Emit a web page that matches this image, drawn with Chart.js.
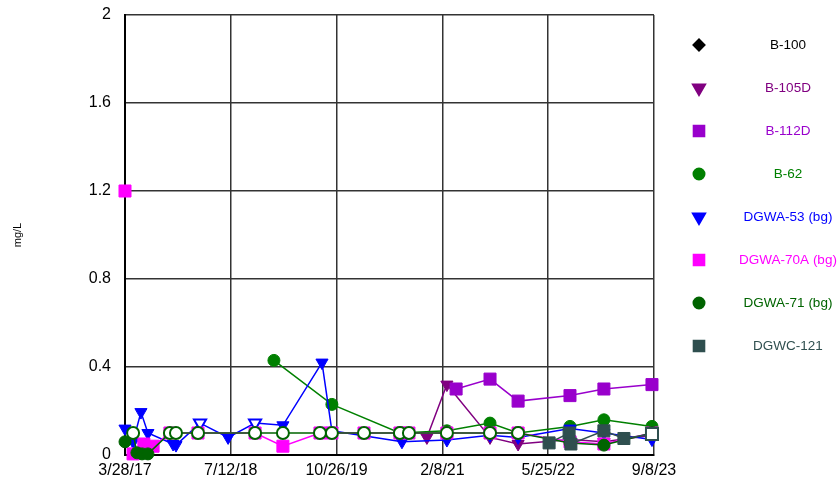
<!DOCTYPE html>
<html>
<head>
<meta charset="utf-8">
<script src="https://cdn.jsdelivr.net/npm/chart.js@4/dist/chart.umd.min.js"></script>
<style>
  html, body { margin: 0; padding: 0; background: #fff; }
  #wrap { width: 840px; height: 488px; }
</style>
</head>
<body>
<div id="wrap"><canvas id="chart" width="840" height="488"></canvas></div>
<script>
// x axis ticks (dates)
const xTickDates = ['2017-03-28', '2018-07-12', '2019-10-26', '2021-02-08', '2022-05-25', '2023-09-08'];
const xTickLabels = ['3/28/17', '7/12/18', '10/26/19', '2/8/21', '5/25/22', '9/8/23'];
const yTicks = [0, 0.4, 0.8, 1.2, 1.6, 2];

// series: dates, values, nd = non-detect (drawn hollow)
const b100Dates = [];
const b100Vals = [];
const b100Nd = [];

const b105dDates = ['2020-12-01', '2021-02-28', '2021-09-08', '2022-01-11', '2022-08-30', '2023-01-28', '2023-08-30'];
const b105dVals = [0.08, 0.32, 0.08, 0.05, 0.07, 0.06, 0.09];
const b105dNd = [0, 0, 0, 0, 0, 0, 0];

const b112dDates = ['2021-04-10', '2021-09-08', '2022-01-11', '2022-08-30', '2023-01-28', '2023-08-30'];
const b112dVals = [0.30, 0.345, 0.245, 0.27, 0.30, 0.32];
const b112dNd = [0, 0, 0, 0, 0, 0];

const b62Dates = ['2019-01-20', '2019-10-05', '2020-08-03', '2021-02-28', '2021-09-08', '2022-01-11', '2022-08-30', '2023-01-28', '2023-08-30'];
const b62Vals = [0.43, 0.23, 0.1, 0.11, 0.145, 0.1, 0.13, 0.16, 0.13];
const b62Nd = [0, 0, 1, 0, 0, 1, 0, 0, 0];

const dgwa53Dates = ['2017-03-28', '2017-05-03', '2017-06-07', '2017-07-08', '2017-10-28', '2017-11-10', '2018-02-25', '2018-06-30', '2018-10-28', '2019-03-01', '2019-08-22', '2019-10-05', '2020-08-12', '2021-02-28', '2021-09-08', '2022-01-11', '2022-08-30', '2023-01-28', '2023-08-30'];
const dgwa53Vals = [0.12, 0.06, 0.195, 0.1, 0.05, 0.045, 0.145, 0.08, 0.145, 0.135, 0.42, 0.11, 0.06, 0.068, 0.09, 0.08, 0.12, 0.1, 0.07];
const dgwa53Nd = [0, 0, 0, 0, 0, 0, 1, 0, 1, 0, 0, 0, 0, 0, 0, 0, 0, 0, 0];

const dgwa70aDates = ['2017-03-28', '2017-04-15', '2017-05-03', '2017-06-20', '2017-07-31', '2017-10-14', '2018-02-16', '2018-10-28', '2019-03-01', '2019-08-13', '2019-10-05', '2020-02-25', '2020-08-03', '2020-09-12', '2021-02-28', '2021-09-08', '2022-01-11', '2022-08-30', '2023-01-28', '2023-08-30'];
const dgwa70aVals = [1.2, null, 0.005, 0.05, 0.04, 0.1, 0.1, 0.1, 0.04, 0.1, 0.1, 0.1, 0.1, 0.1, 0.1, 0.1, 0.1, 0.06, 0.05, 0.1];
const dgwa70aNd = [0, 0, 0, 0, 0, 0, 0, 0, 0, 0, 0, 0, 0, 0, 0, 0, 0, 0, 0, 0];

const dgwa71Dates = ['2017-03-28', '2017-05-03', '2017-05-20', '2017-06-12', '2017-07-08', '2017-10-14', '2017-11-10', '2018-02-16', '2018-10-28', '2019-03-01', '2019-08-13', '2019-10-05', '2020-02-25', '2020-08-03', '2020-09-12', '2021-02-28', '2021-09-08', '2022-01-11', '2022-08-30', '2023-01-28', '2023-08-30'];
const dgwa71Vals = [0.06, 0.1, 0.01, 0.005, 0.005, 0.1, 0.1, 0.1, 0.1, 0.1, 0.1, 0.1, 0.1, 0.1, 0.1, 0.1, 0.1, 0.1, 0.055, 0.045, 0.1];
const dgwa71Nd = [0, 1, 0, 0, 0, 1, 1, 1, 1, 1, 1, 1, 1, 1, 1, 1, 1, 1, 0, 0, 1];

const dgwc121Dates = ['2022-05-29', '2022-08-26', '2022-09-03', '2023-01-28', '2023-04-27', '2023-08-30'];
const dgwc121Vals = [0.055, 0.1, 0.05, 0.11, 0.075, 0.095];
const dgwc121Nd = [0, 0, 0, 0, 0, 1];

function day(s) {
    const p = s.split('-');
    return Date.UTC(+p[0], +p[1] - 1, +p[2]) / 864e5;
}

const series = [
    { label: 'B-100', dates: b100Dates, vals: b100Vals, nd: b100Nd, color: '#000000', style: 'rectRot', r: 6, rotation: 0 },
    { label: 'B-105D', dates: b105dDates, vals: b105dVals, nd: b105dNd, color: '#800080', style: 'triangle', r: 7, rotation: 180 },
    { label: 'B-112D', dates: b112dDates, vals: b112dVals, nd: b112dNd, color: '#9900CC', style: 'rect', r: 8.5, rotation: 0 },
    { label: 'B-62', dates: b62Dates, vals: b62Vals, nd: b62Nd, color: '#008000', style: 'circle', r: 6, rotation: 0 },
    { label: 'DGWA-53 (bg)', dates: dgwa53Dates, vals: dgwa53Vals, nd: dgwa53Nd, color: '#0000FF', style: 'triangle', r: 7, rotation: 180 },
    { label: 'DGWA-70A (bg)', dates: dgwa70aDates, vals: dgwa70aVals, nd: dgwa70aNd, color: '#FF00FF', style: 'rect', r: 8.5, rotation: 0 },
    { label: 'DGWA-71 (bg)', dates: dgwa71Dates, vals: dgwa71Vals, nd: dgwa71Nd, color: '#006400', style: 'circle', r: 6, rotation: 0 },
    { label: 'DGWC-121', dates: dgwc121Dates, vals: dgwc121Vals, nd: dgwc121Nd, color: '#2F4F4F', style: 'rect', r: 8.5, rotation: 0 }
];

const datasets = series.map((s, i) => ({
    label: s.label,
    data: s.dates.map((d, j) => ({ x: day(d), y: s.vals[j] })),
    showLine: true,
    spanGaps: false,
    clip: false,
    borderColor: s.color,
    borderWidth: 1.5,
    pointStyle: s.style,
    pointRotation: s.rotation,
    pointRadius: s.r,
    pointHoverRadius: s.r,
    pointBackgroundColor: s.nd.map(n => n ? '#ffffff' : s.color),
    pointBorderColor: s.color,
    pointBorderWidth: s.nd.map(n => n ? 2 : 1),
    order: -i
}));

// legend drawn on the right
const sideLegend = {
    id: 'sideLegend',
    afterDraw(chart) {
        const ctx = chart.ctx;
        ctx.save();
        ctx.font = '13.5px "Liberation Sans", Arial, sans-serif';
        ctx.textAlign = 'center';
        ctx.textBaseline = 'middle';
        series.forEach((s, i) => {
            const y = 45 + i * 43;
            ctx.fillStyle = s.color;
            ctx.strokeStyle = s.color;
            Chart.helpers.drawPoint(ctx, {
                pointStyle: s.style,
                radius: s.style === 'rect' ? 7.5 : (s.style === 'triangle' ? 7 : 5.5),
                rotation: s.rotation,
                borderWidth: 1
            }, 699, y);
            ctx.fillStyle = s.color;
            ctx.fillText(s.label, 788, y);
        });
        ctx.restore();
    }
};

new Chart(document.getElementById('chart'), {
    type: 'scatter',
    data: { datasets: datasets },
    options: {
        responsive: false,
        animation: false,
        events: [],
        layout: { padding: { top: 15, right: 186, left: 0, bottom: 0 } },
        plugins: {
            legend: { display: false },
            tooltip: { enabled: false }
        },
        scales: {
            x: {
                type: 'linear',
                min: day(xTickDates[0]),
                max: day(xTickDates[xTickDates.length - 1]),
                afterBuildTicks: scale => { scale.ticks = xTickDates.map(d => ({ value: day(d) })); },
                afterFit: scale => { scale.height = 33; scale.paddingLeft = 0; scale.paddingRight = 0; },
                ticks: {
                    autoSkip: false,
                    maxRotation: 0,
                    padding: 6,
                    color: '#000',
                    font: { family: '"Liberation Sans", Arial, sans-serif', size: 16 },
                    callback: (v, i) => xTickLabels[i]
                },
                grid: { color: '#333', lineWidth: 1.5, drawTicks: false },
                border: { color: '#000', width: 2 }
            },
            y: {
                min: 0,
                max: 2,
                afterBuildTicks: scale => { scale.ticks = yTicks.map(v => ({ value: v })); },
                afterFit: scale => { scale.width = 125; scale.paddingTop = 0; scale.paddingBottom = 0; },
                ticks: {
                    padding: 14,
                    color: '#000',
                    font: { family: '"Liberation Sans", Arial, sans-serif', size: 16 },
                    callback: v => String(v)
                },
                title: {
                    display: true,
                    text: 'mg/L',
                    color: '#000',
                    padding: { top: 11, bottom: 0 },
                    font: { family: '"Liberation Sans", Arial, sans-serif', size: 11 }
                },
                grid: { color: '#333', lineWidth: 1.5, drawTicks: false },
                border: { color: '#000', width: 2 }
            }
        }
    },
    plugins: [sideLegend]
});
</script>
</body>
</html>
